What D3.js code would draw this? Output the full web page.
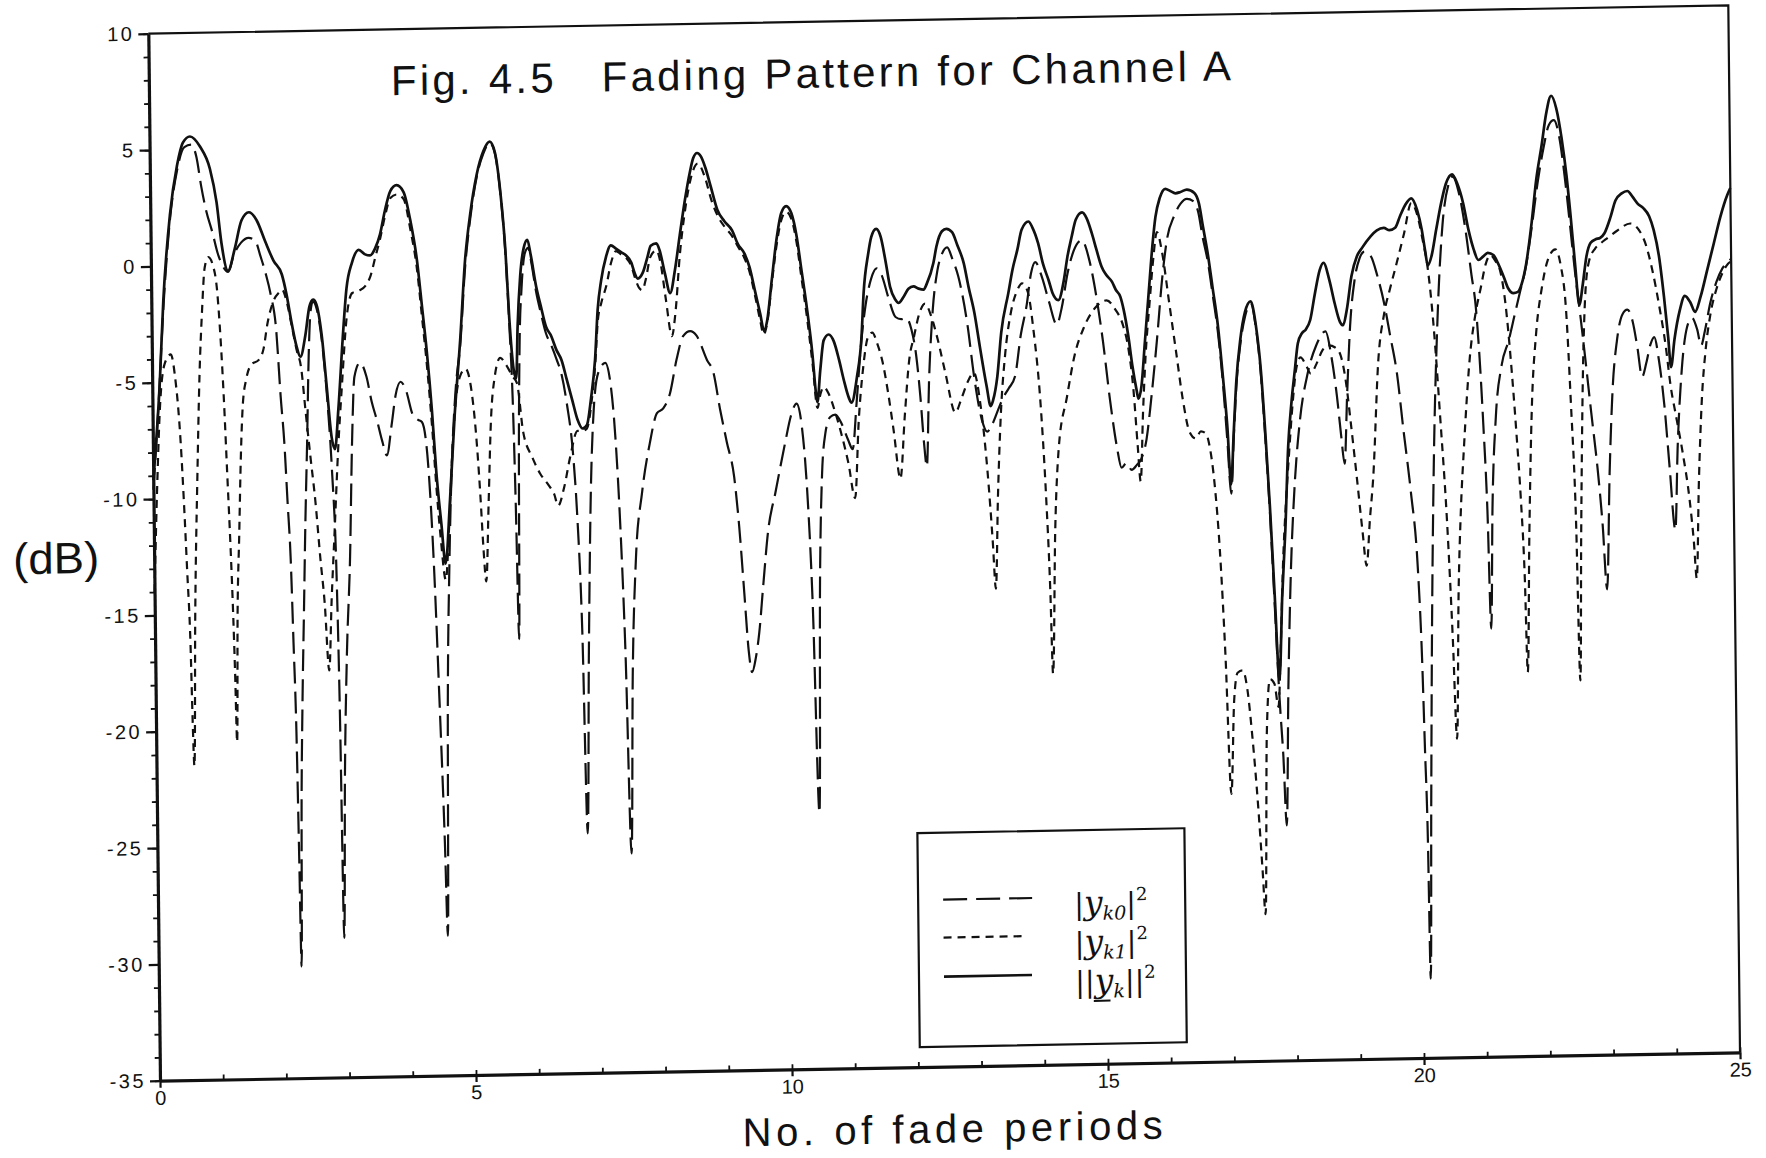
<!DOCTYPE html>
<html>
<head>
<meta charset="utf-8">
<script src="https://cdn.jsdelivr.net/npm/d3@7"></script>
<style>
  html, body { margin: 0; padding: 0; background: #fff; }
  svg { display: block; }
</style>
</head>
<body>
<svg id="chart" width="1766" height="1158"></svg>
<script>
// ---- Series: [fade periods, dB] ----
// ||y_k||^2  (solid)
const totalPower = [
[0,-9.2],[0.12,-5.0],[0.19,-1.5],[0.31,2.2],[0.43,4.3],[0.53,5.3],[0.64,5.55],[0.8,5.1],[0.95,4.15],
[1.05,2.7],[1.12,0.95],[1.22,-0.25],[1.33,0.7],[1.44,1.9],[1.56,2.25],[1.68,1.9],[1.81,1.0],[1.94,0.15],
[2.07,-0.45],[2.14,-1.3],[2.22,-2.6],[2.29,-3.55],[2.35,-4.0],[2.43,-3.1],[2.5,-1.85],[2.56,-1.55],[2.61,-1.75],
[2.69,-3.1],[2.76,-5.3],[2.83,-7.5],[2.88,-8.0],[2.94,-6.3],[3.02,-3.3],[3.09,-1.1],[3.18,0.0],[3.29,0.55],
[3.39,0.35],[3.47,0.3],[3.55,0.6],[3.63,1.2],[3.71,2.2],[3.8,3.05],[3.9,3.3],[4.01,3.0],[4.11,1.8],[4.21,0.05],
[4.28,-1.9],[4.35,-3.9],[4.42,-6.4],[4.48,-9.1],[4.55,-11.3],[4.61,-13.0],[4.69,-10.3],[4.78,-6.6],[4.88,-3.4],
[4.97,0.0],[5.06,2.0],[5.17,3.7],[5.28,4.7],[5.38,5.1],[5.46,4.65],[5.54,2.95],[5.61,0.45],[5.66,-2.5],
[5.72,-4.7],[5.76,-5.1],[5.79,-2.9],[5.84,-0.7],[5.9,0.5],[5.96,0.85],[6.01,0.2],[6.09,-1.15],[6.16,-2.0],
[6.24,-2.9],[6.32,-3.3],[6.4,-3.9],[6.48,-4.35],[6.56,-5.2],[6.64,-6.05],[6.72,-6.9],[6.8,-7.3],[6.87,-7.15],
[6.94,-6.0],[7.01,-4.35],[7.06,-2.2],[7.12,-0.95],[7.2,0.05],[7.28,0.55],[7.36,0.4],[7.44,0.25],[7.52,0.1],
[7.6,-0.2],[7.65,-0.65],[7.7,-0.9],[7.78,-0.65],[7.86,0.05],[7.91,0.5],[8.0,0.6],[8.05,0.3],[8.13,-0.7],
[8.21,-1.55],[8.29,-0.55],[8.37,0.9],[8.46,2.45],[8.54,3.6],[8.6,4.25],[8.66,4.45],[8.72,4.3],[8.79,3.8],
[8.87,3.0],[8.97,2.0],[9.08,1.5],[9.2,1.1],[9.29,0.5],[9.39,0.1],[9.47,-0.5],[9.55,-1.5],[9.63,-2.5],
[9.69,-3.25],[9.74,-2.8],[9.82,-1.05],[9.9,0.65],[9.98,1.8],[10.06,2.1],[10.14,1.8],[10.22,0.8],[10.29,-0.65],
[10.37,-2.3],[10.45,-4.3],[10.5,-6.0],[10.52,-6.35],[10.57,-5.0],[10.63,-3.7],[10.71,-3.45],[10.79,-3.75],
[10.87,-4.55],[10.94,-5.4],[11.02,-6.2],[11.06,-6.4],[11.15,-5.3],[11.23,-3.55],[11.27,-1.7],[11.35,0.0],
[11.4,0.7],[11.48,1.05],[11.55,0.7],[11.62,-0.3],[11.69,-1.45],[11.77,-2.0],[11.82,-2.15],[11.9,-1.9],
[11.98,-1.55],[12.06,-1.45],[12.14,-1.55],[12.22,-1.6],[12.27,-1.35],[12.38,-0.45],[12.43,0.25],[12.52,0.9],
[12.59,1.0],[12.68,0.85],[12.76,0.3],[12.86,-0.5],[12.93,-1.5],[13.02,-2.65],[13.1,-4.1],[13.2,-5.8],
[13.26,-6.65],[13.3,-6.4],[13.37,-5.4],[13.44,-3.5],[13.56,-1.8],[13.63,-0.8],[13.71,0.05],[13.78,0.9],
[13.89,1.25],[13.95,1.0],[14.04,0.3],[14.11,-0.55],[14.2,-1.3],[14.26,-1.85],[14.35,-2.15],[14.44,-1.3],
[14.5,-0.3],[14.57,0.55],[14.64,1.3],[14.74,1.6],[14.81,1.35],[14.89,0.7],[14.96,0.0],[15.04,-0.75],
[15.11,-1.1],[15.2,-1.4],[15.26,-1.75],[15.33,-2.05],[15.38,-2.6],[15.45,-3.75],[15.51,-5.05],[15.57,-6.05],
[15.6,-6.45],[15.65,-5.9],[15.71,-4.05],[15.78,-1.9],[15.85,0.2],[15.9,1.35],[15.97,2.15],[16.06,2.55],
[16.14,2.45],[16.22,2.35],[16.3,2.4],[16.4,2.5],[16.52,2.35],[16.59,1.9],[16.65,0.9],[16.72,-0.25],
[16.79,-1.7],[16.87,-3.4],[16.94,-5.6],[17.0,-7.7],[17.05,-10.2],[17.1,-8.0],[17.15,-5.8],[17.22,-4.0],
[17.3,-2.8],[17.39,-2.35],[17.47,-3.4],[17.54,-5.3],[17.6,-8.0],[17.66,-11.2],[17.72,-15.0],[17.78,-18.6],
[17.84,-15.0],[17.9,-12.2],[17.96,-8.6],[18.02,-6.7],[18.08,-5.3],[18.13,-4.2],[18.2,-3.75],[18.26,-3.6],
[18.33,-3.2],[18.41,-2.05],[18.49,-1.05],[18.55,-0.75],[18.64,-1.5],[18.72,-2.5],[18.8,-3.3],[18.85,-3.45],
[18.91,-2.8],[18.99,-1.35],[19.08,-0.5],[19.16,-0.15],[19.3,0.35],[19.4,0.6],[19.51,0.7],[19.6,0.6],
[19.69,0.7],[19.77,1.2],[19.86,1.7],[19.95,1.95],[20.04,1.45],[20.11,0.6],[20.16,-0.3],[20.2,-0.95],
[20.26,-0.55],[20.34,0.6],[20.42,1.7],[20.5,2.55],[20.6,2.95],[20.68,2.55],[20.77,1.7],[20.85,0.55],
[20.93,-0.3],[21.0,-0.75],[21.08,-0.6],[21.15,-0.45],[21.24,-0.55],[21.31,-0.9],[21.4,-1.5],[21.47,-2.0],
[21.55,-2.2],[21.62,-2.15],[21.7,-1.65],[21.76,-0.9],[21.85,0.8],[21.93,2.65],[22.02,4.1],[22.1,5.5],
[22.18,6.25],[22.26,5.7],[22.34,4.4],[22.41,2.8],[22.47,1.0],[22.53,-1.0],[22.59,-2.75],[22.65,-1.85],
[22.71,-0.7],[22.78,-0.1],[22.86,0.05],[22.93,0.1],[23.0,0.3],[23.1,1.0],[23.18,1.7],[23.28,2.0],
[23.37,2.1],[23.45,1.85],[23.53,1.55],[23.62,1.35],[23.71,1.0],[23.78,0.4],[23.86,-0.75],[23.93,-2.45],
[23.99,-4.2],[24.03,-5.5],[24.09,-4.3],[24.18,-3.05],[24.26,-2.45],[24.35,-2.75],[24.42,-3.15],[24.51,-2.5],
[24.62,-1.35],[24.73,-0.2],[24.84,0.95],[24.95,1.85],[25.0,2.15]
];

// |y_k0|^2  (long dashes)
const branch0 = [
[0,-9.6],[0.1,-5.8],[0.19,-1.8],[0.31,2.0],[0.43,4.1],[0.55,5.1],[0.66,5.2],[0.74,4.65],[0.81,3.4],
[0.88,2.4],[0.98,1.4],[1.06,0.5],[1.13,0.0],[1.22,-0.3],[1.31,0.4],[1.43,0.95],[1.55,1.15],[1.66,1.0],
[1.73,0.4],[1.81,-0.35],[1.89,-1.3],[1.97,-2.8],[2.03,-5.7],[2.08,-7.7],[2.12,-10.2],[2.16,-12.7],
[2.19,-16.3],[2.22,-20.1],[2.24,-25],[2.26,-30.2],[2.29,-23],[2.32,-19],[2.36,-15],[2.4,-11],[2.44,-7.7],
[2.48,-4.0],[2.52,-2.0],[2.56,-1.65],[2.61,-1.9],[2.69,-3.3],[2.76,-5.6],[2.83,-9.0],[2.88,-13],[2.91,-19],
[2.94,-29],[2.98,-22],[3.03,-17],[3.1,-12.6],[3.15,-7.8],[3.2,-4.9],[3.29,-4.3],[3.39,-4.9],[3.47,-6.0],
[3.55,-6.8],[3.63,-7.7],[3.7,-8.3],[3.78,-7.0],[3.85,-5.7],[3.93,-5.15],[4.01,-5.5],[4.12,-6.6],[4.2,-6.8],
[4.26,-6.9],[4.34,-8.3],[4.42,-12.7],[4.49,-19.0],[4.55,-25.1],[4.58,-29.0],[4.62,-19],[4.67,-13],
[4.73,-8.5],[4.8,-5.5],[4.88,-3.6],[4.97,-0.3],[5.06,1.8],[5.17,3.6],[5.28,4.6],[5.38,5.05],[5.46,4.6],
[5.54,2.9],[5.61,0.3],[5.66,-2.8],[5.7,-6.0],[5.73,-10.5],[5.76,-16.3],[5.79,-8],[5.82,-3.5],[5.86,-1.2],
[5.92,0.3],[5.97,0.5],[6.02,-0.15],[6.09,-1.4],[6.16,-2.3],[6.24,-3.2],[6.32,-3.7],[6.4,-4.3],[6.48,-5.0],
[6.56,-6.3],[6.64,-8.2],[6.7,-11],[6.76,-16],[6.81,-24.7],[6.86,-17],[6.92,-10],[6.98,-6.5],[7.06,-4.9],
[7.17,-4.5],[7.25,-5.4],[7.32,-7.8],[7.38,-11.5],[7.44,-17],[7.5,-25.6],[7.55,-18],[7.62,-13],[7.73,-10.1],
[7.86,-8.0],[7.98,-6.7],[8.08,-6.5],[8.19,-5.85],[8.3,-4.4],[8.41,-3.4],[8.52,-3.2],[8.62,-3.4],[8.78,-4.45],
[8.88,-5.0],[8.98,-6.6],[9.08,-8.0],[9.19,-9.5],[9.26,-11.6],[9.33,-14.5],[9.39,-17.0],[9.44,-17.9],
[9.5,-17.3],[9.56,-16.2],[9.63,-14.2],[9.72,-11.8],[9.84,-10.2],[10.0,-8.1],[10.1,-6.9],[10.19,-6.4],
[10.27,-7.4],[10.34,-10],[10.41,-15],[10.48,-24],[10.53,-14],[10.58,-9.5],[10.64,-7.7],[10.72,-7.0],
[10.8,-6.9],[10.9,-7.3],[11.0,-8.0],[11.07,-8.4],[11.14,-6.4],[11.22,-3.9],[11.3,-2.2],[11.39,-1.1],
[11.48,-0.65],[11.56,-0.95],[11.66,-1.9],[11.77,-2.75],[11.86,-2.85],[11.94,-2.8],[12.02,-3.3],[12.09,-4.4],
[12.15,-6.2],[12.2,-8.2],[12.24,-9.2],[12.29,-5.5],[12.36,-2.5],[12.44,-0.8],[12.52,-0.05],[12.6,0.2],
[12.68,-0.3],[12.77,-1.05],[12.91,-3.2],[13.0,-5.3],[13.12,-7.25],[13.2,-7.75],[13.28,-7.45],[13.38,-6.8],
[13.46,-6.3],[13.55,-5.9],[13.65,-5.4],[13.75,-3.6],[13.85,-2.3],[13.92,-1.0],[13.99,-0.5],[14.1,-1.2],
[14.2,-2.2],[14.32,-3.2],[14.4,-2.5],[14.5,-1.0],[14.6,-0.05],[14.73,0.4],[14.85,-0.5],[14.95,-2.0],
[15.05,-4.0],[15.15,-6.5],[15.25,-8.5],[15.32,-9.4],[15.4,-9.2],[15.48,-9.5],[15.56,-9.3],[15.64,-9.0],
[15.72,-8.2],[15.8,-6.5],[15.9,-4.0],[16.0,-1.2],[16.08,0.4],[16.2,1.4],[16.3,1.9],[16.4,2.1],[16.5,2.0],
[16.58,1.5],[16.64,0.5],[16.72,-0.6],[16.79,-2.0],[16.87,-3.7],[16.94,-5.9],[17.0,-8.4],[17.05,-10.6],
[17.1,-8.2],[17.15,-6.0],[17.22,-4.2],[17.3,-3.0],[17.39,-2.45],[17.47,-3.5],[17.54,-5.5],[17.6,-8.3],
[17.66,-11.5],[17.72,-15.5],[17.78,-19.5],[17.83,-22],[17.87,-24.9],[17.92,-19],[17.98,-14],[18.05,-10.5],
[18.15,-7.5],[18.28,-5.5],[18.42,-4.3],[18.57,-3.7],[18.66,-4.8],[18.74,-6.5],[18.8,-8.2],[18.85,-9.4],
[18.9,-6.5],[18.96,-3.5],[19.04,-1.5],[19.12,-0.6],[19.2,-0.3],[19.3,-0.5],[19.4,-1.35],[19.5,-2.5],
[19.59,-3.9],[19.69,-5.5],[19.79,-8.1],[19.89,-10.6],[19.99,-14.0],[20.04,-17.8],[20.07,-21.7],[20.1,-25.6],
[20.12,-31.6],[20.16,-24],[20.2,-17],[20.26,-9.5],[20.34,-3.5],[20.44,0.8],[20.54,2.5],[20.61,2.85],
[20.7,2.2],[20.8,0.6],[20.89,-1.4],[20.95,-2.7],[21.0,-4.8],[21.05,-7.8],[21.1,-11.5],[21.14,-16.6],
[21.18,-11.5],[21.25,-7.5],[21.35,-5.3],[21.47,-4.2],[21.56,-3.2],[21.65,-2.2],[21.75,-1.1],[21.85,0.6],
[21.95,2.5],[22.05,4.0],[22.14,5.0],[22.22,5.2],[22.3,4.5],[22.38,2.8],[22.46,0.6],[22.53,-1.4],[22.6,-3.1],
[22.68,-5.2],[22.76,-7.4],[22.85,-9.8],[22.92,-12.2],[22.98,-15.0],[23.04,-10.0],[23.1,-6.5],[23.18,-4.3],
[23.27,-3.2],[23.35,-3.0],[23.43,-3.5],[23.5,-4.6],[23.57,-5.9],[23.64,-5.3],[23.71,-4.5],[23.77,-4.2],
[23.84,-5.2],[23.92,-7.2],[23.99,-9.8],[24.07,-12.5],[24.12,-9.0],[24.2,-5.6],[24.29,-3.8],[24.37,-3.4],
[24.45,-3.9],[24.51,-4.6],[24.57,-4.0],[24.66,-2.8],[24.76,-1.9],[24.86,-1.3],[24.95,-1.0],[25.0,-0.9]
];

// |y_k1|^2  (short dashes)
const branch1 = [
[0,-14.0],[0.06,-9.5],[0.12,-6.0],[0.2,-4.2],[0.3,-3.8],[0.36,-4.7],[0.44,-7.6],[0.48,-10.1],[0.52,-13.1],
[0.56,-16.3],[0.58,-19.5],[0.6,-21.5],[0.64,-15.0],[0.7,-8.9],[0.75,-4.7],[0.8,-2.0],[0.85,-0.1],[0.91,0.35],
[0.98,0.0],[1.04,-1.0],[1.09,-3.2],[1.13,-5.7],[1.17,-8.9],[1.21,-12.1],[1.24,-15.0],[1.26,-17.5],
[1.28,-20.5],[1.31,-15],[1.35,-11.6],[1.39,-8.2],[1.43,-6.0],[1.49,-4.9],[1.57,-4.3],[1.69,-4.1],[1.77,-3.6],
[1.83,-2.6],[1.93,-1.6],[2.03,-1.2],[2.07,-1.1],[2.14,-1.6],[2.22,-2.7],[2.29,-3.7],[2.36,-4.5],[2.42,-6.3],
[2.49,-8.3],[2.56,-10.2],[2.63,-12.7],[2.69,-14.6],[2.75,-17.5],[2.8,-14.5],[2.86,-11.5],[2.93,-8],
[3.0,-5.3],[3.09,-2.3],[3.18,-1.3],[3.29,-1.2],[3.39,-1.0],[3.47,-0.6],[3.55,0.2],[3.63,1.0],[3.71,1.95],
[3.8,2.75],[3.9,2.9],[4.01,2.7],[4.11,1.4],[4.21,-0.35],[4.28,-2.4],[4.35,-4.5],[4.42,-7.1],[4.48,-9.8],
[4.54,-12.0],[4.61,-13.7],[4.67,-11.5],[4.73,-8.5],[4.8,-6.0],[4.88,-4.9],[4.96,-4.65],[5.04,-5.4],
[5.11,-7.3],[5.17,-10.0],[5.21,-12.3],[5.25,-13.8],[5.3,-10.5],[5.35,-7.0],[5.42,-5.0],[5.51,-4.2],
[5.6,-4.5],[5.7,-5.0],[5.77,-5.3],[5.86,-7.4],[6.0,-8.5],[6.12,-9.2],[6.25,-9.7],[6.34,-10.1],[6.4,-10.6],
[6.5,-9.8],[6.6,-8.5],[6.72,-7.4],[6.8,-7.4],[6.87,-7.3],[6.95,-6.1],[7.01,-4.6],[7.06,-2.7],[7.12,-1.9],
[7.2,-1.2],[7.28,-0.2],[7.36,0.3],[7.44,0.15],[7.52,0.0],[7.6,-0.35],[7.66,-0.9],[7.72,-1.3],[7.77,-1.4],
[7.83,-0.9],[7.9,0.0],[8.0,0.3],[8.06,-0.2],[8.14,-1.8],[8.23,-3.4],[8.29,-2.4],[8.37,0.1],[8.46,2.0],
[8.55,3.3],[8.67,4.0],[8.78,3.4],[8.88,2.4],[9.0,1.6],[9.1,1.2],[9.2,0.85],[9.29,0.4],[9.39,-0.1],
[9.47,-0.7],[9.55,-1.7],[9.63,-2.8],[9.68,-3.4],[9.74,-2.9],[9.82,-1.2],[9.9,0.4],[9.98,1.5],[10.06,1.85],
[10.14,1.55],[10.22,0.5],[10.29,-1.0],[10.37,-2.7],[10.45,-4.7],[10.52,-6.6],[10.57,-6.0],[10.62,-5.7],
[10.7,-6.0],[10.8,-6.8],[10.9,-7.8],[11.0,-9.0],[11.1,-10.5],[11.17,-7.2],[11.25,-4.9],[11.33,-3.6],
[11.4,-3.4],[11.48,-3.9],[11.56,-4.7],[11.64,-6.0],[11.72,-7.6],[11.82,-9.7],[11.9,-7.0],[11.98,-4.6],
[12.06,-3.6],[12.15,-2.6],[12.24,-2.2],[12.33,-2.7],[12.43,-3.7],[12.55,-5.2],[12.7,-6.9],[12.8,-6.3],
[12.9,-5.6],[13.0,-5.2],[13.1,-6.6],[13.2,-9.5],[13.27,-12.5],[13.31,-14.5],[13.36,-10.5],[13.42,-7.0],
[13.5,-4.4],[13.6,-2.6],[13.7,-1.7],[13.78,-1.4],[13.87,-1.8],[13.95,-3.4],[14.05,-6.6],[14.12,-10.5],
[14.17,-14.5],[14.2,-18.2],[14.26,-12.0],[14.33,-8.5],[14.47,-6.3],[14.6,-4.5],[14.74,-3.4],[14.95,-2.45],
[15.11,-2.2],[15.25,-2.6],[15.37,-3.3],[15.45,-4.3],[15.52,-6.0],[15.58,-8.5],[15.62,-10.0],[15.67,-7.0],
[15.72,-4.6],[15.79,-2.4],[15.86,-0.4],[15.92,0.7],[16.0,-0.2],[16.1,-2.3],[16.2,-4.4],[16.3,-6.5],
[16.4,-7.9],[16.5,-8.2],[16.58,-7.9],[16.66,-8.0],[16.72,-8.6],[16.79,-10.2],[16.86,-13.0],[16.93,-17.5],
[17.0,-23.5],[17.06,-19.5],[17.12,-18.3],[17.2,-18.2],[17.27,-19.0],[17.34,-21],[17.42,-24],[17.48,-26.8],
[17.52,-28.7],[17.57,-21],[17.63,-18.6],[17.7,-18.8],[17.76,-19.8],[17.81,-17],[17.86,-13.5],[17.91,-11.2],
[17.97,-9.0],[18.04,-6.7],[18.1,-5.3],[18.17,-4.8],[18.25,-5.1],[18.33,-5.5],[18.42,-5.1],[18.52,-4.5],
[18.62,-4.3],[18.72,-4.4],[18.8,-4.7],[18.88,-5.8],[18.96,-7.8],[19.04,-10.0],[19.12,-12.3],[19.18,-13.8],
[19.24,-11.8],[19.3,-10.0],[19.4,-5.0],[19.5,-3.0],[19.6,-1.9],[19.71,-0.8],[19.83,0.45],[19.95,1.75],
[20.04,1.25],[20.12,0.2],[20.2,-1.1],[20.28,-3.5],[20.37,-7.5],[20.46,-12.0],[20.53,-17.0],[20.58,-21.3],
[20.63,-15.0],[20.68,-11.5],[20.74,-8.8],[20.85,-4.9],[20.95,-3.0],[21.03,-2.0],[21.12,-0.9],[21.19,-0.55],
[21.27,-0.8],[21.35,-1.3],[21.42,-2.6],[21.5,-5.2],[21.57,-8.1],[21.63,-11.0],[21.68,-14.5],[21.71,-18.5],
[21.76,-12.5],[21.82,-7.2],[21.9,-4.0],[22.0,-2.0],[22.1,-0.8],[22.22,-0.35],[22.3,-1.0],[22.38,-3.0],
[22.44,-7.0],[22.5,-12.0],[22.54,-18.9],[22.58,-12.5],[22.63,-6.2],[22.68,-2.6],[22.75,-0.9],[22.85,-0.35],
[22.93,-0.15],[23.05,0.1],[23.2,0.4],[23.41,0.7],[23.55,0.4],[23.65,-0.2],[23.75,-1.3],[23.85,-2.8],
[23.95,-4.6],[24.02,-6.3],[24.1,-7.6],[24.2,-9.2],[24.3,-11.2],[24.36,-13],[24.4,-14.6],[24.45,-10.5],
[24.51,-7.0],[24.58,-4.8],[24.66,-3.3],[24.76,-2.2],[24.86,-1.5],[24.95,-1.1],[25.0,-1.0]
];

// ---- Axes and labels ----
const xTicks = [0, 5, 10, 15, 20, 25];
const xMinorTicks = d3.range(0, 26, 1);
const yTicks = [10, 5, 0, -5, -10, -15, -20, -25, -30, -35];
const yMinorTicks = d3.range(-35, 11, 1);
const titleText = "Fig. 4.5\u00A0\u00A0\u00A0Fading Pattern for Channel A";
const xAxisLabel = "No. of fade periods";
const yAxisLabel = "(dB)";

// ---- Layout ----
const W = 1580, H = 1047;
const ink = "#111";
const font = "'Liberation Sans', Arial, sans-serif";

const svg = d3.select("#chart");
svg.append("rect").attr("width", 1766).attr("height", 1158).attr("fill", "#fff");

// the sheet sits slightly skewed on the page
const g = svg.append("g")
  .attr("transform", "matrix(1,-0.01796,0.01117,1,148.3,33.7)");

const x = d3.scaleLinear().domain([0, 25]).range([0, W]);
const y = d3.scaleLinear().domain([-35, 10]).range([H, 0]);

// frame (top and right edges)
g.append("path")
  .attr("d", `M0,0 L${W},0 L${W},${H}`)
  .attr("fill", "none").attr("stroke", ink).attr("stroke-width", 2.2);

// minor ticks
g.append("g").attr("transform", `translate(0,${H})`)
  .call(d3.axisBottom(x).tickValues(xMinorTicks).tickSize(-5).tickFormat(""))
  .call(a => a.select(".domain").remove())
  .call(a => a.selectAll("line").attr("stroke", ink).attr("stroke-width", 1.8));
g.append("g")
  .call(d3.axisLeft(y).tickValues(yMinorTicks).tickSize(5).tickFormat(""))
  .call(a => a.select(".domain").remove())
  .call(a => a.selectAll("line").attr("stroke", ink).attr("stroke-width", 1.8));

// major axes
const xAxis = g.append("g").attr("transform", `translate(0,${H})`)
  .call(d3.axisBottom(x).tickValues(xTicks).tickSize(7).tickSizeOuter(0).tickPadding(3)
        .tickFormat(d => String(d)));
const yAxis = g.append("g")
  .call(d3.axisLeft(y).tickValues(yTicks).tickSize(10).tickSizeOuter(0).tickPadding(4)
        .tickFormat(d => String(d)));
[xAxis, yAxis].forEach(a => {
  a.select(".domain").attr("stroke", ink).attr("stroke-width", 3.2);
  a.selectAll(".tick line").attr("stroke", ink).attr("stroke-width", 2.2);
  a.selectAll(".tick text").attr("fill", ink)
    .style("font-family", font).style("font-size", "20px");
});
yAxis.selectAll(".tick text").style("letter-spacing", "2.5px");

// ---- Curves ----
const line = d3.line()
  .x(d => x(d[0]))
  .y(d => y(d[1]))
  .curve(d3.curveMonotoneX);

const curves = g.append("g").attr("fill", "none").attr("stroke", ink)
  .attr("stroke-linejoin", "round");

curves.append("path").datum(branch1)
  .attr("d", line).attr("stroke-width", 2.2).attr("stroke-dasharray", "8,6");
curves.append("path").datum(branch0)
  .attr("d", line).attr("stroke-width", 2.2).attr("stroke-dasharray", "22,8");
curves.append("path").datum(totalPower)
  .attr("d", line).attr("stroke-width", 2.7);

// ---- Titles ----
g.append("text")
  .attr("x", 242).attr("y", 66)
  .attr("textLength", 840).attr("lengthAdjust", "spacing")
  .style("font-family", font).style("font-size", "42px").attr("fill", ink)
  .text(titleText);

g.append("text")
  .attr("x", 792).attr("y", 1123)
  .attr("text-anchor", "middle")
  .attr("textLength", 420).attr("lengthAdjust", "spacing")
  .style("font-family", font).style("font-size", "40px").attr("fill", ink)
  .text(xAxisLabel);

g.append("text")
  .attr("x", -98).attr("y", 538)
  .attr("text-anchor", "middle")
  .attr("textLength", 86).attr("lengthAdjust", "spacingAndGlyphs")
  .style("font-family", font).style("font-size", "44px").attr("fill", ink)
  .text(yAxisLabel);

// ---- Legend ----
const legend = g.append("g");
legend.append("rect")
  .attr("x", 760).attr("y", 813).attr("width", 267).attr("height", 214)
  .attr("fill", "#fff").attr("stroke", ink).attr("stroke-width", 2.2);

const legendItems = [
  { dash: "24,9", width: 2.2, y: 880, len: 89 },
  { dash: "8,6", width: 2.2, y: 918, len: 79 },
  { dash: null, width: 2.6, y: 957, len: 88 }
];
legendItems.forEach(it => {
  legend.append("line")
    .attr("x1", 785).attr("x2", 785 + it.len)
    .attr("y1", it.y).attr("y2", it.y)
    .attr("stroke", ink).attr("stroke-width", it.width)
    .attr("stroke-dasharray", it.dash);
});

const serif = "'DejaVu Serif', 'Liberation Serif', serif";
function legendLabel(yPos, bars, sub, underline) {
  const t = legend.append("text")
    .attr("x", 916).attr("y", yPos)
    .style("font-family", serif).style("font-size", "29px").attr("fill", ink);
  t.append("tspan").text(bars);
  t.append("tspan").style("font-style", "italic").style("font-size", "33px").text("y");
  t.append("tspan").attr("dy", 6).style("font-size", "19px").style("font-style", "italic").text(sub);
  t.append("tspan").attr("dy", -6).text(bars);
  t.append("tspan").attr("dy", -13).style("font-size", "18px").text("2");
  if (underline) {
    const node = t.node();
    const yi = bars.length;            // index of the "y" glyph
    const s = node.getStartPositionOfChar(yi);
    const e = node.getEndPositionOfChar(yi);
    legend.append("line")
      .attr("x1", s.x - 1).attr("x2", e.x - 3)
      .attr("y1", yPos + 9).attr("y2", yPos + 9)
      .attr("stroke", ink).attr("stroke-width", 2);
  }
}
legendLabel(897, "|", "k0", false);
legendLabel(936, "|", "k1", false);
legendLabel(975, "||", "k", true);
</script>
</body>
</html>
